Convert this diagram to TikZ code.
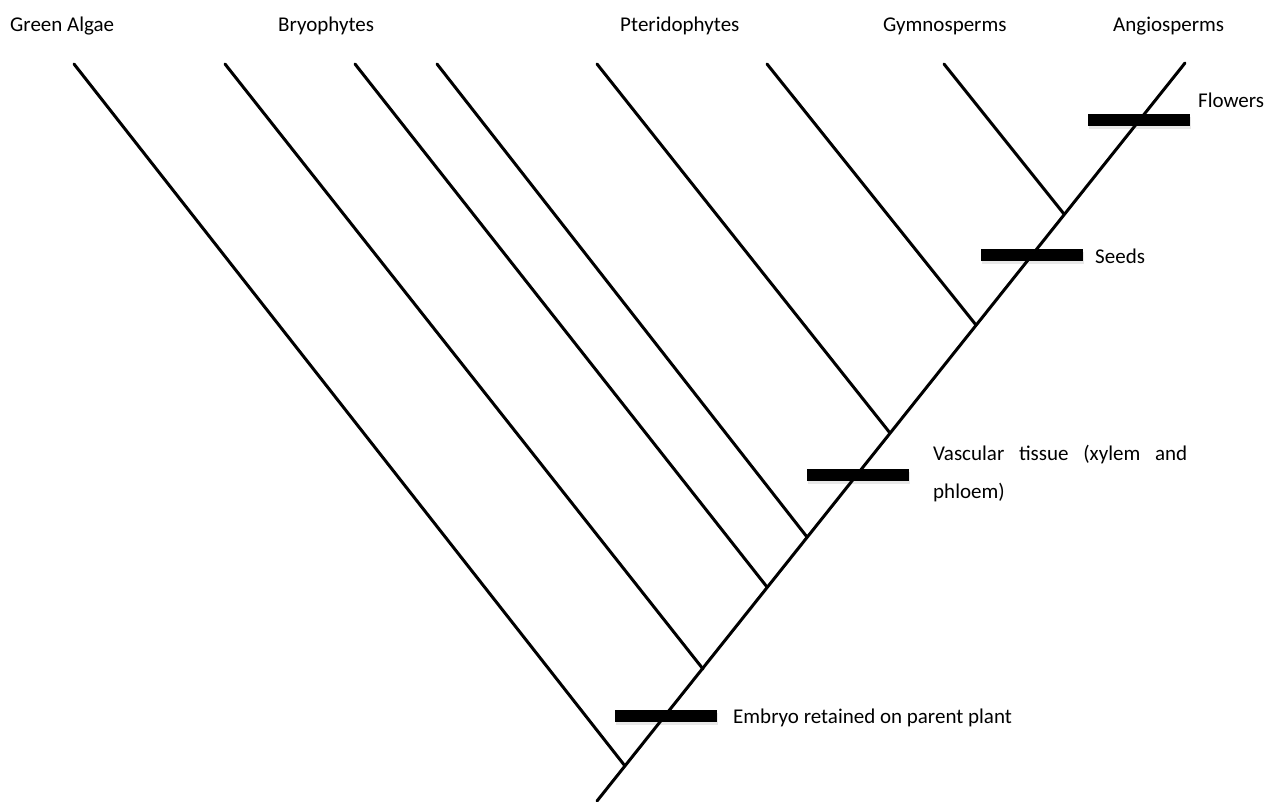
\documentclass[tikz,border=0pt]{standalone}
\usepackage{fontspec}
\setmainfont{Carlito}
\usetikzlibrary{shadows}
\begin{document}
\begin{tikzpicture}[x=1pt,y=-1pt,
  branch/.style={line width=3pt, line cap=round},
  trait/.style={fill=black, inner sep=0pt, minimum width=102pt, minimum height=12pt,
    drop shadow={shadow xshift=1pt, shadow yshift=-3pt, opacity=0.18, fill=gray}},
  lab/.style={anchor=base west, inner sep=0pt, font=\fontsize{21}{25}\selectfont}]
\useasboundingbox (0,0) rectangle (1283,801);
\fill[white] (0,0) rectangle (1283,801);
% trunk
\coordinate (root) at (597,801);
\coordinate (top) at (1185,63);
% branch tips
\coordinate (t1) at (74,64);
\coordinate (t2) at (225,64);
\coordinate (t3) at (355,64);
\coordinate (t4) at (437,64);
\coordinate (t5) at (597,64);
\coordinate (t6) at (767,64);
\coordinate (t7) at (944,64);
% junctions on trunk
\coordinate (j1) at (625,766);
\coordinate (j2) at (703,669);
\coordinate (j3) at (767,587);
\coordinate (j4) at (807,537);
\coordinate (j5) at (890,433);
\coordinate (j6) at (976,325);
\coordinate (j7) at (1064,214);
% trait bars
\node[trait] (embryo) at (666,715.5) {};
\node[trait] (vasc) at (858,475) {};
\node[trait] (seeds) at (1032,254.5) {};
\node[trait] (flowers) at (1139,119.5) {};
\draw[branch] (root) -- (top);
\foreach \i in {1,...,7} {\draw[branch] (t\i) -- (j\i);}
% taxa labels
\node[lab] (ga) at (10,31) {Green Algae};
\node[lab] (br) at (278,31) {Bryophytes};
\node[lab] (pt) at (620,31) {Pteridophytes};
\node[lab] (gy) at (883,31) {Gymnosperms};
\node[lab] (an) at (1113,31) {Angiosperms};
% trait labels
\node[lab] (lfl) at (1198,107) {Flowers};
\node[lab] (lse) at (1095,263) {Seeds};
\node[lab] (lva1) at (933,460) {\makebox[254pt][s]{Vascular tissue (xylem and}};
\node[lab] (lva2) at (933,498) {phloem)};
\node[lab] (lem) at (733,723) {Embryo retained on parent plant};
\end{tikzpicture}
\end{document}
